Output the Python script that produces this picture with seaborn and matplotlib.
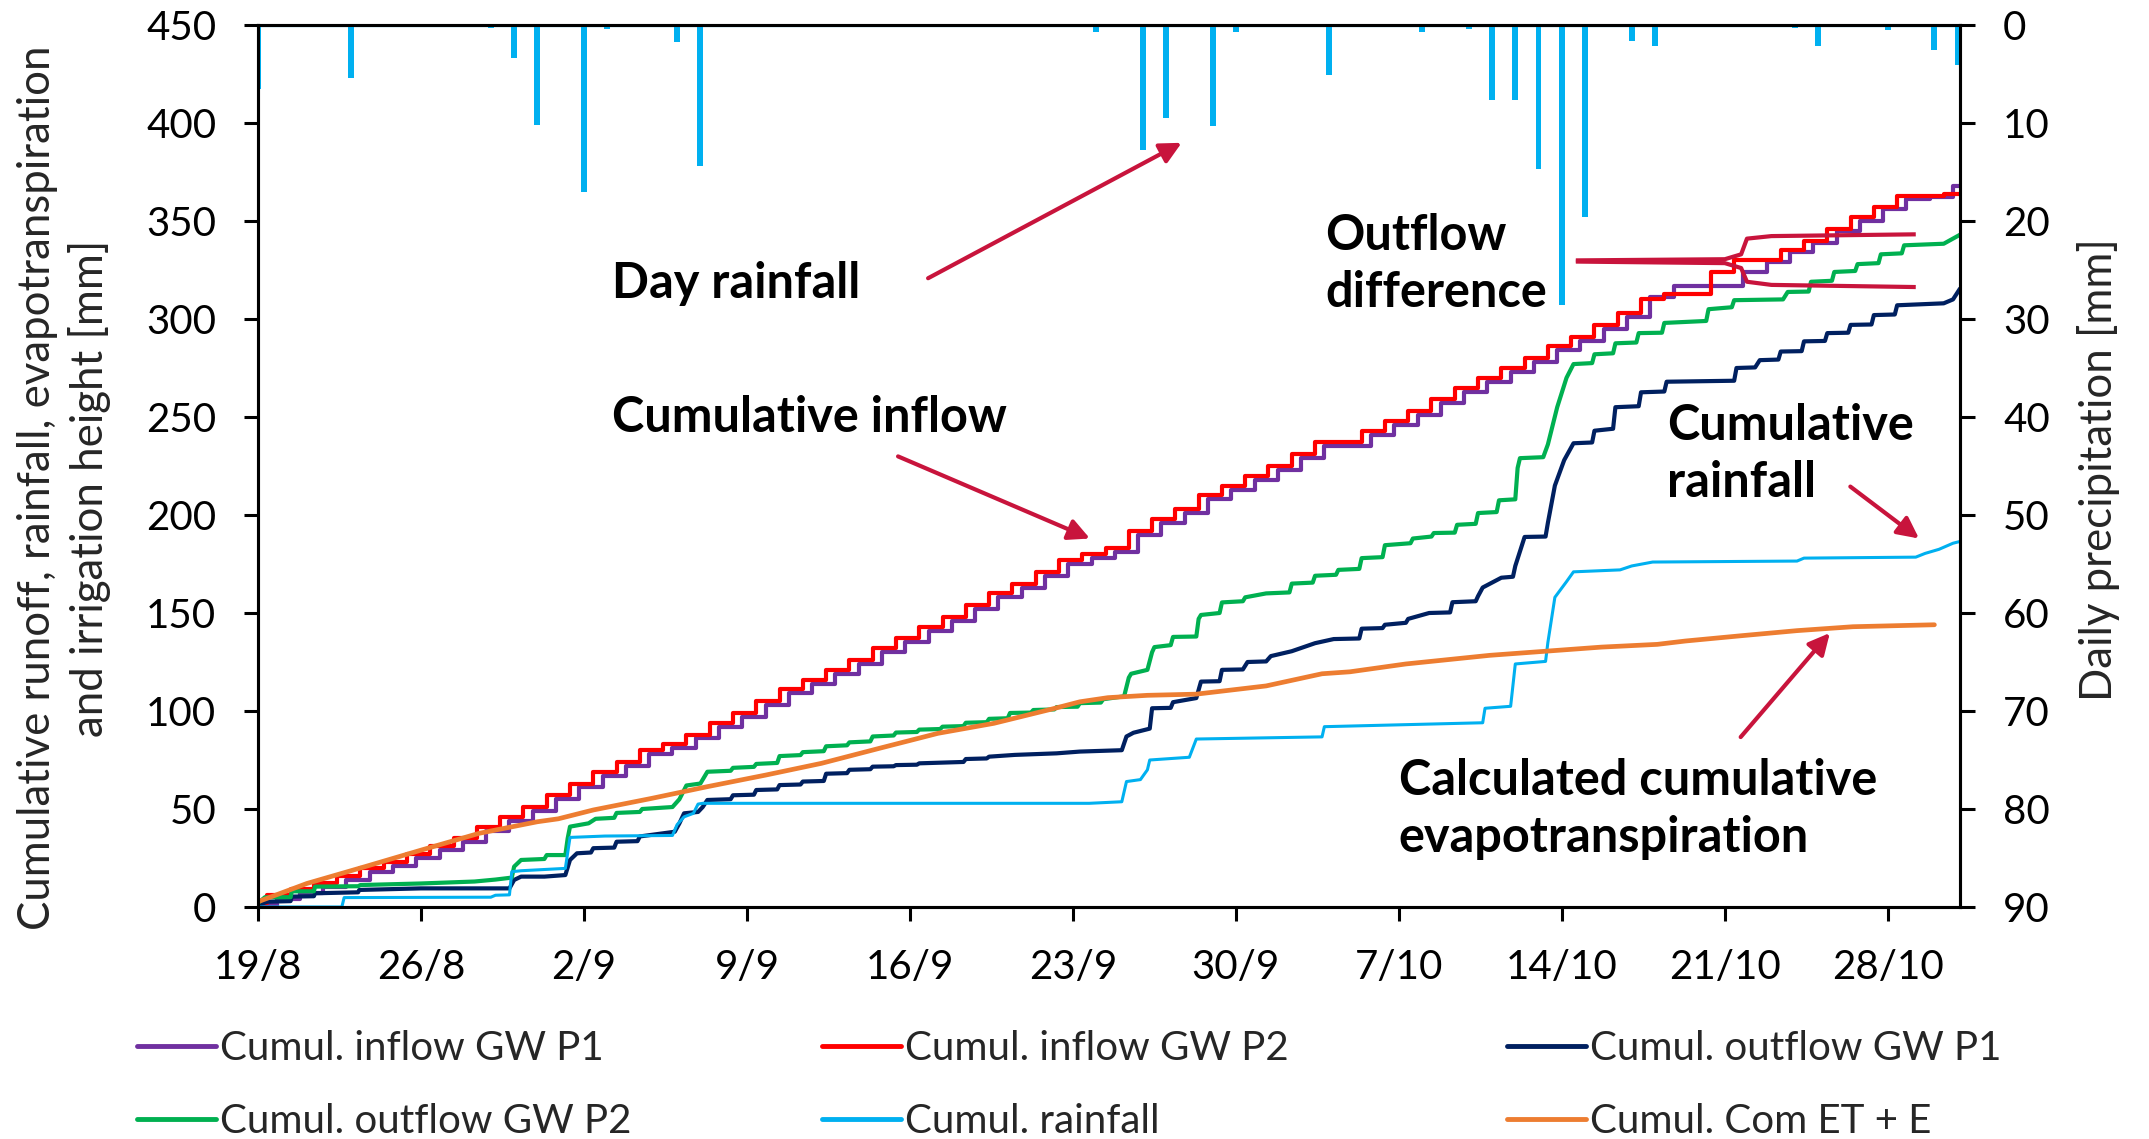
import numpy as np
import pandas as pd
import matplotlib
matplotlib.use("Agg")
import matplotlib.pyplot as plt
from matplotlib.lines import Line2D
import seaborn as sns

# ---------------- data ----------------
tick_days = [0, 7, 14, 21, 28, 35, 42, 49, 56, 63, 70]
tick_labels = ["19/8", "26/8", "2/9", "9/9", "16/9", "23/9", "30/9", "7/10", "14/10", "21/10", "28/10"]

# daily precipitation bars (day index, mm)
rain_days = [0, 4, 10, 11, 12, 14, 15, 18, 19, 36, 38, 39, 41, 42, 46, 50, 52, 53, 54, 55, 56, 57,
             59, 60, 66, 67, 70, 72, 73]
rain_mm = [6.5, 5.4, 0.3, 3.4, 10.2, 17.0, 0.4, 1.7, 14.4, 0.7, 12.8, 9.5, 10.3, 0.7, 5.1, 0.7, 0.4,
           7.7, 7.7, 14.7, 28.6, 19.6, 1.6, 2.1, 0.3, 2.1, 0.5, 2.5, 4.1]

# cumulative inflow, daily step levels (initial value, then level after each day's irrigation)
inflow_p2 = [2, 6, 9, 12, 16, 20, 23, 27, 31, 35, 41, 46, 51, 57, 63, 69, 74, 80, 83, 88, 94, 99,
             105, 111, 116, 121, 126, 132, 137, 143, 148, 154, 160, 165, 171, 177, 180, 183, 192,
             198, 203, 210, 215, 220, 225, 231, 237, 237, 243, 248, 253, 259, 265, 270, 275, 280,
             286, 291, 297, 303, 310, 313, 313, 324, 330, 330, 335, 340, 346, 352, 357, 363, 363,
             364, 364]
inflow_p1 = [1, 4, 7, 10, 14, 18, 21, 25, 29, 33, 39, 44, 49, 55, 61, 67, 72, 78, 81, 86, 92, 97,
             103, 109, 114, 119, 124, 130, 135, 141, 146, 152, 158, 163, 169, 175, 178, 181, 190,
             196, 201, 208, 213, 218, 223, 229, 235, 235, 241, 246, 251, 257, 263, 268, 273, 278,
             284, 289, 295, 301, 311, 317, 317, 317, 324, 329, 334, 339, 345, 350, 356, 361, 362,
             368, 368]

# cumulative outflow GW P2 (day, mm)
out_p2_t = [0, 0.3, 1.4, 1.45, 2.4, 2.45, 4.3, 4.4, 7, 9.3, 10.2, 10.9, 11.0, 11.3, 12.3, 12.4,
            13.2, 13.3, 13.4, 14.2, 14.5, 15.3, 15.4, 16.4, 16.5, 17.8, 18.1, 18.4, 19.0, 19.1,
            19.3, 20.3, 20.4, 21.3, 21.4, 22.3, 22.4, 23.3, 23.4, 24.3, 24.4, 25.3, 25.4, 26.3,
            26.4, 27.3, 27.4, 28.3, 28.4, 29.3, 29.4, 30.3, 30.4, 31.3, 31.4, 32.2, 32.3, 33.2,
            33.3, 34.2, 34.3, 35.2, 35.3, 36.2, 36.3, 37.2, 37.4, 37.5, 38.2, 38.4, 38.5, 39.2,
            39.3, 40.3, 40.4, 40.5, 41.3, 41.4, 42.3, 42.4, 43.3, 44.3, 44.4, 45.3, 45.4, 46.3,
            46.4, 47.3, 47.4, 48.3, 48.4, 49.5, 49.6, 50.4, 50.5, 51.4, 51.5, 52.3, 52.4, 53.2,
            53.3, 54.0, 54.1, 54.2, 55.2, 55.4, 55.8, 56.2, 56.5, 57.3, 57.4, 58.2, 58.3, 59.2,
            59.3, 60.3, 60.4, 62.2, 62.3, 63.3, 63.4, 65.5, 65.7, 66.6, 66.7, 67.6, 67.7, 68.6,
            68.7, 69.6, 69.7, 70.6, 70.7, 72.4, 72.8, 73.1]
out_p2_v = [2, 5, 5, 8, 8, 10.4, 10.6, 11.2, 12, 13, 14, 15, 20.6, 24, 24.5, 26.5,
            26.5, 35, 41, 42.7, 45, 45.5, 48, 48.5, 50, 51, 55, 62, 63, 65,
            69, 69.5, 71, 71.5, 73, 73.5, 77, 77.5, 79, 79.5, 82, 82.5, 84, 84.5,
            87, 87.5, 89, 89.3, 90.5, 90.8, 92, 92.3, 94, 94.3, 96, 96.3, 99, 99.2,
            100.5, 100.8, 102, 102.2, 104, 104.3, 106, 107.5, 117, 119, 121, 130, 132.6, 133.6,
            137.8, 138, 147, 149, 150, 155.4, 156, 158, 160, 160.5, 165, 165.5, 169, 169.5,
            172, 172.5, 178, 178.5, 184.6, 185.6, 188, 189, 190.8, 191, 195, 195.5, 201, 201.5,
            207.5, 208, 224, 229, 229.5, 236, 255, 270, 277, 277.5, 282, 282.5, 287.6, 288,
            292.8, 293, 298, 299, 305, 306, 309.6, 310, 313.8, 314, 319, 319.5, 324, 324.5,
            328, 328.5, 333, 333.5, 337.6, 338.4, 341, 343]

# cumulative outflow GW P1 (day, mm)
out_p1_t = [0, 0.4, 1.4, 1.45, 2.4, 2.45, 4.3, 4.35, 7, 10.8, 11.0, 11.3, 12.3, 13.2, 13.4, 13.7,
            14.3, 14.4, 15.3, 15.4, 16.3, 16.4, 17.9, 18.1, 18.3, 18.9, 19.1, 19.3, 20.3, 20.4,
            21.3, 21.4, 22.3, 22.4, 23.3, 23.4, 24.3, 24.4, 25.3, 25.4, 26.3, 26.4, 27.3, 27.4,
            28.3, 28.4, 30.3, 30.4, 31.3, 31.4, 32.5, 34.3, 35.3, 37.1, 37.3, 37.6, 38.3, 38.4,
            39.2, 39.3, 40.3, 40.5, 41.3, 41.4, 42.3, 42.5, 43.3, 43.5, 44.4, 45.4, 46.2, 47.3,
            47.4, 48.3, 48.4, 49.3, 49.4, 50.3, 51.2, 51.3, 52.3, 52.4, 52.6, 53.4, 53.9, 54.0,
            54.4, 55.3, 55.4, 55.7, 56.1, 56.5, 57.3, 57.4, 58.2, 58.3, 59.3, 59.4, 60.4, 60.5,
            63.4, 63.5, 64.3, 64.5, 65.3, 65.4, 66.3, 66.4, 67.3, 67.4, 68.3, 68.4, 69.3, 69.4,
            70.3, 70.4, 72.4, 72.8, 73.1]
out_p1_v = [1, 2.7, 3, 5.3, 5.5, 7, 7.5, 8.7, 9.5, 9.5, 13.8, 15.5, 15.5, 16.3, 24, 27.4,
            27.8, 30, 30.3, 33.3, 33.6, 36, 38.4, 42.7, 47.8, 48.5, 51, 54.6, 55, 57,
            57.3, 59.7, 60, 62.2, 62.5, 64, 64.3, 68, 68.3, 70, 70.3, 71.6, 71.8, 72.4,
            72.6, 73.3, 74, 75.5, 75.8, 76.7, 77.6, 78.4, 79.3, 80, 87, 88.9, 91, 101.4,
            101.6, 104.5, 106.6, 115, 115.2, 121, 121.2, 125, 125.3, 128, 130.5, 134.6, 136.7, 137,
            142, 142.3, 144, 145, 147, 150, 150.3, 155.5, 156, 158.6, 163, 168, 168.5, 174,
            188.8, 189, 196, 215, 228, 236.6, 237, 243, 244, 255, 255.5, 262.6, 263, 268,
            268.5, 275, 275.3, 279, 279.3, 283.4, 283.6, 288.6, 288.8, 292.8, 293, 297, 297.2, 302,
            302.3, 307, 308, 310, 315.5]

# cumulative rainfall (day, mm)
rain_cum_t = [0, 3.6, 3.7, 10.0, 10.2, 10.8, 10.9, 11.3, 13.2, 13.4, 14.9, 17.8, 18.0, 18.3, 18.7,
              18.9, 19.1, 35.7, 37.1, 37.3, 37.9, 38.2, 38.3, 40.0, 40.3, 45.7, 45.8, 49.2, 52.6,
              52.7, 53.8, 54.0, 55.3, 55.4, 55.7, 56.2, 56.5, 58.5, 59.0, 59.9, 66.1, 66.4, 71.2,
              71.6, 72.2, 72.8, 73.1]
rain_cum_v = [0, 0, 4.8, 5, 6, 6.2, 18, 18.5, 19.7, 35.5, 36.2, 36.5, 42, 46, 47.8,
              52.5, 52.9, 52.9, 53.7, 64, 65, 70, 75, 76.4, 85.7, 86.8, 92, 93, 94,
              101.4, 102.4, 124, 125.3, 135, 158, 166, 171, 172, 174, 176, 176.5, 178, 178.5,
              180.4, 182.5, 185.6, 186.5]

# calculated cumulative ET + E (day, mm)
et_t = [0, 2.1, 4.6, 7, 9.5, 12, 12.9, 14.4, 16.9, 19.3, 21.8, 24.2, 26.7, 29.2, 31.6, 34.1,
        35.3, 36.5, 38.2, 40.3, 43.3, 45.7, 46.9, 49.3, 52.9, 55.3, 57.7, 60.1, 61.3, 63.7,
        66.1, 68.5, 72]
et_v = [2.7, 12, 20.6, 29, 37.6, 43.5, 45, 49.5, 55.4, 61.4, 67.3, 73.3, 81, 88.6, 93.7, 101,
        104.7, 106.8, 108, 108.6, 112.8, 119, 120, 124, 128.4, 130.5, 132.6, 134, 135.7, 138.4,
        141, 143, 144]

series_labels = ["Cumul. inflow GW P1", "Cumul. inflow GW P2", "Cumul. outflow GW P1",
                 "Cumul. outflow GW P2", "Cumul. rainfall", "Cumul. Com ET + E"]

# ---------------- styling ----------------
C_PURPLE = "#7030A0"
C_RED = "#FF0000"
C_NAVY = "#002060"
C_GREEN = "#00B050"
C_LBLUE = "#00B0F0"
C_ORANGE = "#ED7D31"
C_ARROW = "#C8143C"

sns.set_theme(style="white")
plt.rcParams["font.family"] = ["Lato", "DejaVu Sans"]
plt.rcParams["axes.linewidth"] = 2.2

W, H = 2149, 1139
fig = plt.figure(figsize=(W / 100, H / 100), dpi=100)
L, R, T, B = 258, 1960, 25, 907
ax = fig.add_axes([L / W, 1 - B / H, (R - L) / W, (B - T) / H])
ax2 = ax.twinx()

days = np.arange(74)
step_x_p2 = np.r_[0, days + 0.4]
step_x_p1 = np.r_[0, days + 0.8]

lw = 3.0
sns.lineplot(x=step_x_p1, y=inflow_p1, ax=ax, color=C_PURPLE, lw=lw, drawstyle="steps-post",
             estimator=None, sort=False, legend=False, label=series_labels[0])
sns.lineplot(x=step_x_p2, y=inflow_p2, ax=ax, color=C_RED, lw=lw, drawstyle="steps-post",
             estimator=None, sort=False, legend=False, label=series_labels[1])
sns.lineplot(x=out_p1_t, y=out_p1_v, ax=ax, color=C_NAVY, lw=lw, estimator=None, sort=False,
             legend=False, label=series_labels[2])
sns.lineplot(x=out_p2_t, y=out_p2_v, ax=ax, color=C_GREEN, lw=lw, estimator=None, sort=False,
             legend=False, label=series_labels[3])
sns.lineplot(x=rain_cum_t, y=rain_cum_v, ax=ax, color=C_LBLUE, lw=2.2, estimator=None,
             sort=False, legend=False, label=series_labels[4])
sns.lineplot(x=et_t, y=et_v, ax=ax, color=C_ORANGE, lw=3.4, estimator=None, sort=False,
             legend=False, label=series_labels[5])

# daily rainfall bars hanging from the top (right axis inverted)
sns.barplot(x=rain_days, y=rain_mm, ax=ax2, native_scale=True, width=0.25, color=C_LBLUE,
            saturation=1, errorbar=None, linewidth=0)
ax2.axhline(0, color=C_LBLUE, lw=3)

ax.set_xlim(0, 73.1)
ax2.set_xlim(0, 73.1)
ax.set_ylim(0, 450)
ax2.set_ylim(90, 0)
ax.set_yticks(np.arange(0, 451, 50))
ax2.set_yticks(np.arange(0, 91, 10))
ax.set_xticks(tick_days)
ax.set_xticklabels(tick_labels)
ax.set_xlabel("")
ax.set_ylabel("")
ax2.set_xlabel("")
ax2.set_ylabel("")

for a in (ax, ax2):
    for s in a.spines.values():
        s.set_color("black")
        s.set_linewidth(2.2)
        s.set_visible(True)
    a.grid(False)
ax.tick_params(axis="both", direction="out", length=10, width=2.2, color="black",
               labelsize=29, labelcolor="black", left=True, bottom=True)
ax.tick_params(axis="y", pad=20)
ax.tick_params(axis="x", pad=20)
ax2.tick_params(axis="y", direction="out", length=11, width=2.2, color="black",
                labelsize=29, labelcolor="black", right=True, pad=20)

# axis titles
fig.text(64 / W, 1 - 488 / H,
         "Cumulative runoff, rainfall, evapotranspiration\nand irrigation height [mm]",
         rotation=90, ha="center", va="center", fontsize=31.5, linespacing=1.3)
fig.text(2099 / W, 1 - 470 / H, "Daily precipitation [mm]", rotation=90,
         ha="center", va="center", fontsize=31.5)

# annotations
tkw = dict(fontsize=35, fontweight="bold", color="black", ha="left", va="center",
           linespacing=1.32)
ax.text(15.2, 318, "Day rainfall", **tkw)
ax.text(15.2, 249.5, "Cumulative inflow", **tkw)
ax.text(45.85, 328, "Outflow\ndifference", **tkw)
ax.text(60.5, 231, "Cumulative\nrainfall", **tkw)
ax.text(49.0, 50, "Calculated cumulative\nevapotranspiration", **tkw)

akw = dict(arrowstyle="-|>", color=C_ARROW, lw=3, mutation_scale=32, shrinkA=0, shrinkB=0)
ax.annotate("", xy=(39.67, 389.9), xytext=(28.78, 320.8), arrowprops=akw)
ax.annotate("", xy=(35.73, 188), xytext=(27.49, 229.9), arrowprops=akw)
ax.annotate("", xy=(71.34, 188), xytext=(68.39, 214.5), arrowprops=akw)
ax.annotate("", xy=(67.51, 139.8), xytext=(63.68, 86.7), arrowprops=akw)

# outflow difference bracket
ax.plot([56.6, 63.0, 63.7, 63.95, 65.0, 71.2], [329.9, 330.5, 333, 341, 342.3, 343.2],
        color=C_ARROW, lw=3, solid_capstyle="butt")
ax.plot([56.6, 63.0, 63.7, 63.95, 65.0, 71.2], [329.3, 328.5, 326, 319, 317.4, 316.3],
        color=C_ARROW, lw=3, solid_capstyle="butt")

# legend: three columns, two rows (row-wise order)
handles, labels = ax.get_legend_handles_labels()
col_groups = [[0, 3], [1, 4], [2, 5]]
col_x = [137, 822, 1507]
for grp, cx in zip(col_groups, col_x):
    hh = [Line2D([0], [0], color=handles[i].get_color(), lw=3.5) for i in grp]
    ll = [labels[i] for i in grp]
    fig.legend(hh, ll, loc="center left", bbox_to_anchor=(cx / W, 1 - 1085 / H),
               frameon=False, fontsize=29, handlelength=1.95, handletextpad=0.12,
               labelspacing=0.9, borderpad=0, borderaxespad=0)

fig.savefig("out.png", dpi=100, facecolor="white")
